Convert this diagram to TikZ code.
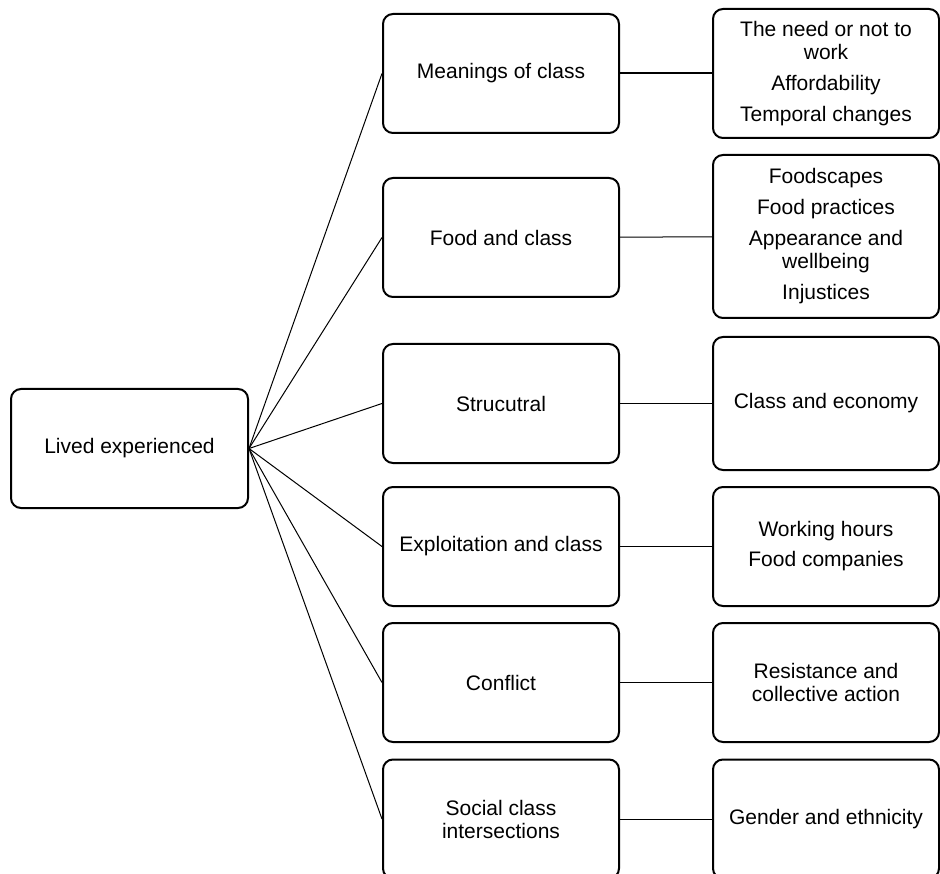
\documentclass[tikz,border=0pt]{standalone}
\usepackage{fontspec}
\setmainfont{Liberation Sans}
\usepackage{tikz}
\usetikzlibrary{positioning, calc}
\definecolor{mydark}{RGB}{0,0,0}
\tikzset{
  rootbox/.style={rectangle, draw=mydark, fill=white, rounded corners=10pt,
    minimum width=237pt, minimum height=119pt, align=center,
    font=\fontsize{21}{23}\selectfont, line width=2pt},
  topicbox/.style={rectangle, draw=mydark, fill=white, rounded corners=10pt,
    minimum width=236pt, minimum height=119pt, align=center,
    font=\fontsize{21}{23}\selectfont, line width=2pt},
  leafbox/.style={rectangle, draw=mydark, fill=white, rounded corners=10pt,
    minimum width=226pt, minimum height=119pt, align=center,
    font=\fontsize{21}{23}\selectfont, line width=2pt},
  link/.style={line width=1pt, color=mydark},
  thicklink/.style={line width=2pt, color=mydark}
}
\begin{document}
\begin{tikzpicture}[x=1pt, y=-1pt]
  \useasboundingbox (0,0) rectangle (940,874);

  % Root
  \node[rootbox] (root) at (129.5, 448.5) {Lived experienced};

  % Topics
  \node[topicbox] (m1) at (501, 73.5) {Meanings of class};
  \node[topicbox] (m2) at (501, 237.5) {Food and class};
  \node[topicbox] (m3) at (501, 403.5) {Strucutral};
  \node[topicbox] (m4) at (501, 546.5) {Exploitation and class};
  \node[topicbox] (m5) at (501, 682.5) {Conflict};
  \node[topicbox] (m6) at (501, 819) {Social class\\intersections};

  % Subtopics
  \node[leafbox, minimum height=129pt] (r1) at (826, 73.5)
    {The need or not to\\work\\[8pt]Affordability\\[8pt]Temporal changes};
  \node[leafbox, minimum height=163pt] (r2) at (826, 236.5)
    {Foodscapes\\[8pt]Food practices\\[8pt]Appearance and\\wellbeing\\[8pt]Injustices};
  \node[leafbox, minimum height=133pt] (r3) at (826, 403.5) {Class and economy};
  \node[leafbox] (r4) at (826, 546.5) {Working hours\\[7pt]Food companies};
  \node[leafbox] (r5) at (826, 682.5) {Resistance and\\collective action};
  \node[leafbox] (r6) at (826, 819) {Gender and ethnicity};

  % Root to topics
  \foreach \i in {1,...,6}
    \draw[link] (root.east) -- (m\i.west);

  % Topics to subtopics
  \draw[thicklink] (m1) -- (r1);
  \foreach \i in {2,...,6}
    \draw[link] (m\i) -- (r\i);
\end{tikzpicture}
\end{document}
